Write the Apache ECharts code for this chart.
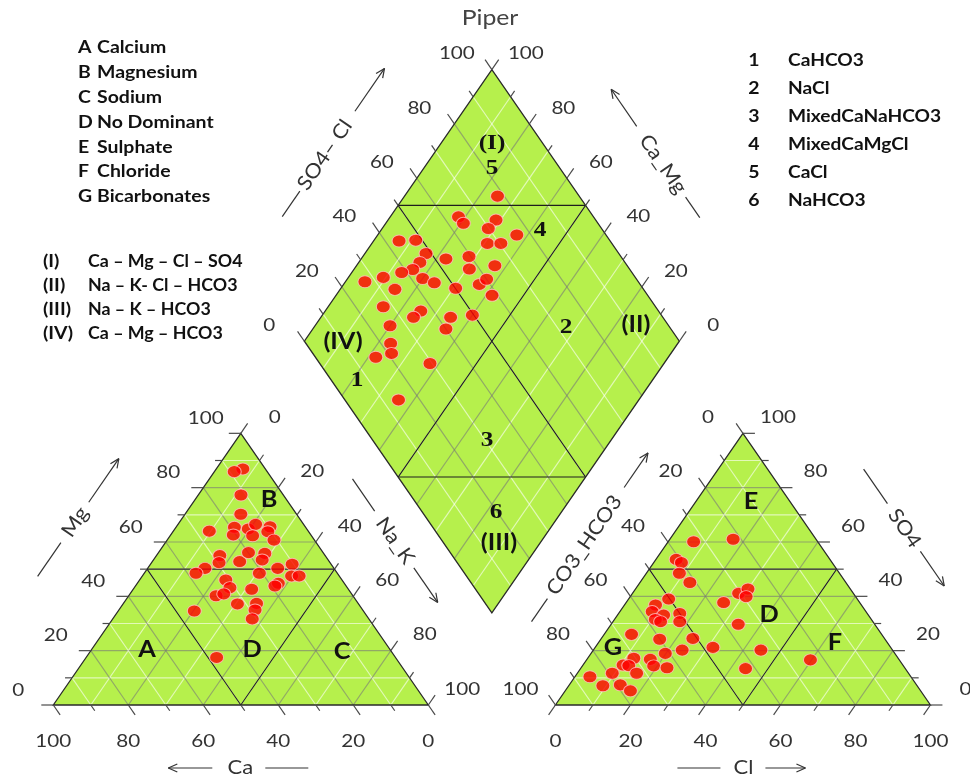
<!DOCTYPE html>
<html><head><meta charset="utf-8">
<script src="https://cdn.jsdelivr.net/npm/echarts@6/dist/echarts.min.js"></script>
<style>html,body{margin:0;padding:0;background:#fff}#c{width:970px;height:777px}</style>
</head><body><div id="c"></div>
<script>
// ---------------- DATA ----------------
// Cation triangle (% meq): Ca and Mg (Na+K = 100 - Ca - Mg)
const cationCa = [6.0,8.8,11.3,14.9,26.4,19.0,20.7,15.6,12.8,15.7,9.4,10.9,10.8,28.1,29.6,23.9,19.9,15.7,17.6,34.4,37.7,20.8,15.0,10.4,12.7,10.7,31.0,31.3,17.6,19.0,25.8,36.5,34.1,32.3,27.1,28.7,31.1,45.1,47.7];
const cationMg = [86.9,85.9,77.3,70.2,64.0,65.4,62.6,64.8,66.5,62.3,65.6,63.8,60.7,55.0,52.4,52.8,56.1,55.8,53.4,50.3,48.5,48.5,50.3,51.8,47.5,47.5,46.0,43.2,44.8,43.8,42.6,40.2,40.9,37.2,37.4,35.0,31.7,34.6,17.5];
// Anion triangle (% meq): Cl and SO4 (CO3+HCO3 = 100 - Cl - SO4)
const anionCl  = [6.8,16.9,5.4,7.4,8.8,13.3,28.3,30.0,30.9,26.0,10.7,8.3,8.6,12.3,16.3,10.9,12.7,17.8,33.9,7.3,15.7,24.4,31.4,23.7,44.7,19.8,12.3,16.9,10.7,12.3,19.0,22.9,15.8,9.3,4.0,9.1,13.6,17.4,44.0,59.7];
const anionSO4 = [60.1,61.0,53.6,52.4,48.5,45.1,41.1,42.7,39.9,37.7,39.0,36.8,34.4,33.1,33.7,31.5,30.7,30.7,29.7,26.0,24.2,24.5,21.2,20.2,20.2,19.0,17.2,16.8,14.7,14.5,14.4,13.7,11.7,11.7,10.4,7.1,7.4,5.2,13.4,16.6];
// Diamond: Ca+Mg and SO4+Cl
const diamondCaMg  = [75.2,81.8,79.3,71.2,71.7,62.9,69.2,65.6,93.2,88.9,83.7,77.4,71.7,63.1,69.3,83.7,84.3,86.7,80.0,76.1,90.7,94.8,85.4,69.4,63.8,62.8,58.4,85.3,74.5,75.3,65.4,60.0,64.5,80.0,76.6,74.5,78.0,62.4,64.1];
const diamondSO4Cl = [78.2,64.0,64.1,73.4,69.8,76.2,66.8,70.4,43.7,48.3,48.6,52.9,59.5,64.7,57.3,45.3,42.1,38.6,43.1,45.4,32.8,27.1,33.7,50.1,57.1,60.0,58.5,27.4,36.6,33.5,43.4,49.6,40.0,25.7,22.6,21.0,16.1,29.4,14.3];

const tickValues = [0,20,40,60,80,100];
const axisNames = ['Mg','Na_K','Ca','CO3_HCO3','SO4','Cl','SO4– Cl','Ca_Mg'];
const legendLetters = ['A','B','C','D','E','F','G'];
const legendNames = ['Calcium','Magnesium','Sodium','No Dominant','Sulphate','Chloride','Bicarbonates'];
const typeCodes = ['(I)','(II)','(III)','(IV)'];
const typeNames = ['Ca – Mg – Cl – SO4','Na – K- Cl – HCO3','Na – K – HCO3','Ca – Mg – HCO3'];
const classNums = ['1','2','3','4','5','6'];
const classNames = ['CaHCO3','NaCl','MixedCaNaHCO3','MixedCaMgCl','CaCl','NaHCO3'];
const chartTitle = 'Piper';

// ---------------- GEOMETRY ----------------
const H = Math.sqrt(3) / 2, G = 33.9;
const PX = 3.75, PY = 3.137, X0 = 53.3, Y0 = 705, W = 970, HT = 777;
const LT = {A:[0,0], B:[50,100*H], C:[100,0]};          // Ca, Mg, Na+K
const RT = {A:[100+G,0], B:[150+G,100*H], C:[200+G,0]};  // CO3+HCO3, SO4, Cl
function bary(T,a,b,c){return [(a*T.A[0]+b*T.B[0]+c*T.C[0])/100,(a*T.A[1]+b*T.B[1]+c*T.C[1])/100];}
function cat(ca,mg){return bary(LT,ca,mg,100-ca-mg);}
function ani(cl,so4){return bary(RT,100-cl-so4,so4,cl);}
function dia(cm,s){return [100+G/2+(s-cm)/2, H*(G+cm+s)];}

const FILL = '#b6f04c';
const SANS = 'Lato';

function renderFrame(params, api){
  const ch = [];
  const P = p => api.coord(p);
  const add = el => ch.push(el);
  const seg = (p,q,stroke,lw) => add({type:'line',shape:{x1:p[0],y1:p[1],x2:q[0],y2:q[1]},style:{stroke:stroke,lineWidth:lw}});
  const dseg = (a,b,stroke,lw) => seg(P(a),P(b),stroke,lw);
  const txt = (x,y,text,font,o) => { o=o||{}; add({type:'text',x:x,y:y,rotation:o.rot||0,scaleX:o.sx||1,
      style:{text:text,font:font,fill:o.fill||'#222',align:o.align||'center',verticalAlign:'middle'}}); };

  const shapes = [[LT.A,LT.B,LT.C],[RT.A,RT.B,RT.C],[dia(0,0),dia(100,0),dia(100,100),dia(0,100)]];
  const cent = shapes.map(s => { const ps=s.map(P); return [ps.reduce((a,p)=>a+p[0],0)/ps.length, ps.reduce((a,p)=>a+p[1],0)/ps.length]; });
  shapes.forEach(s => add({type:'polygon',shape:{points:s.map(P)},style:{fill:FILL,stroke:'none'}}));

  // grid lines
  const gcol = k => k%20===0 ? 'rgba(120,120,120,0.6)' : 'rgba(255,255,255,0.6)';
  for (let k=10;k<100;k+=10){
    [LT,RT].forEach(T => {
      dseg(bary(T,k,100-k,0), bary(T,k,0,100-k), gcol(k), 1.2);
      dseg(bary(T,100-k,k,0), bary(T,0,k,100-k), gcol(k), 1.2);
      dseg(bary(T,100-k,0,k), bary(T,0,100-k,k), gcol(k), 1.2);
    });
    dseg(dia(0,k), dia(100,k), gcol(k), 1.2);
    dseg(dia(k,0), dia(k,100), gcol(k), 1.2);
  }
  // classification lines
  const rc = '#1e1e1e';
  [LT,RT].forEach(T => {
    dseg(bary(T,50,50,0), bary(T,0,50,50), rc, 1.1);
    dseg(bary(T,50,50,0), bary(T,50,0,50), rc, 1.1);
    dseg(bary(T,0,50,50), bary(T,50,0,50), rc, 1.1);
  });
  dseg(dia(100,50), dia(50,100), rc, 1.1);
  dseg(dia(100,50), dia(0,50), rc, 1.1);
  dseg(dia(50,100), dia(50,0), rc, 1.1);
  dseg(dia(50,0), dia(0,50), rc, 1.1);
  // borders
  shapes.forEach(s => add({type:'polygon',shape:{points:s.map(P)},style:{fill:'none',stroke:'#2a2a2a',lineWidth:1.3}}));

  // ticks + tick labels
  const edges = [
    {pt:k=>bary(LT,100-k,k,0), dir:[-1,0],    off:[-35,-15]},
    {pt:k=>bary(LT,0,100-k,k), dir:[0.5,H],   off:[34,-16]},
    {pt:k=>bary(LT,k,0,100-k), dir:[0.5,-H],  off:[0,36]},
    {pt:k=>bary(RT,k,100-k,0), dir:[-0.5,H],  off:[-35,-16]},
    {pt:k=>bary(RT,0,k,100-k), dir:[1,0],     off:[35,-16]},
    {pt:k=>bary(RT,100-k,0,k), dir:[-0.5,-H], off:[0,36]},
    {pt:k=>dia(100,k),         dir:[-0.5,H],  off:[-35,-16]},
    {pt:k=>dia(k,100),         dir:[0.5,H],   off:[34,-16]}
  ];
  edges.forEach(e => {
    for (let k=0;k<=100;k+=10){
      const d = e.pt(k), p = P(d), q = P([d[0]+e.dir[0], d[1]+e.dir[1]]);
      let vx=q[0]-p[0], vy=q[1]-p[1]; const l=Math.hypot(vx,vy); vx/=l; vy/=l;
      const len = k%20===0 ? 12 : 7;
      seg(p,[p[0]+vx*len,p[1]+vy*len],'#4a4a4a',1.2);
    }
    tickValues.forEach(k => { const p=P(e.pt(k)); txt(p[0]+e.off[0], p[1]+e.off[1], String(k), '17.5px '+SANS, {sx:1.18, fill:'#333'}); });
  });

  // axis titles with lines/arrows
  const specs = [
    {shape:0,a:LT.A,b:LT.B,line:[97,138],t:163,arrow:[187,240],n:86},
    {shape:0,a:LT.B,b:LT.C,line:[101,140],t:176,arrow:[209,251],n:66},
    {shape:0,a:LT.A,b:LT.C,line:[212,255],t:187,arrow:[159,115],n:63},
    {shape:1,a:RT.A,b:RT.B,line:[55,83],t:148,arrow:[218,260],n:67},
    {shape:1,a:RT.B,b:RT.C,line:[98,140],t:170,arrow:[198,240],n:79},
    {shape:1,a:RT.A,b:RT.C,line:[122,165],t:188,arrow:[210,250],n:63},
    {shape:2,a:dia(100,0),b:dia(100,100),line:[90,121],t:165,arrow:[218,270],n:89},
    {shape:2,a:dia(100,100),b:dia(0,100),line:[215,240],t:175,arrow:[129,84],n:87}
  ];
  specs.forEach((s,i) => {
    const pa=P(s.a), pb=P(s.b);
    let dx=pb[0]-pa[0], dy=pb[1]-pa[1]; const L=Math.hypot(dx,dy); dx/=L; dy/=L;
    let nx=dy, ny=-dx; const c=cent[s.shape];
    const mx=(pa[0]+pb[0])/2, my=(pa[1]+pb[1])/2;
    if ((mx-c[0])*nx+(my-c[1])*ny<0){nx=-nx;ny=-ny;}
    const at = t => [pa[0]+dx*t+nx*s.n, pa[1]+dy*t+ny*s.n];
    seg(at(s.line[0]), at(s.line[1]), '#333', 1.2);
    const t0=at(s.arrow[0]), t1=at(s.arrow[1]);
    seg(t0,t1,'#333',1.2);
    let ex=t1[0]-t0[0], ey=t1[1]-t0[1]; const el=Math.hypot(ex,ey); ex/=el; ey/=el;
    seg(t1,[t1[0]-ex*9-ey*4, t1[1]-ey*9+ex*4],'#333',1.2);
    seg(t1,[t1[0]-ex*9+ey*4, t1[1]-ey*9-ex*4],'#333',1.2);
    const tp=at(s.t);
    txt(tp[0],tp[1],axisNames[i],'20px '+SANS,{rot:Math.atan2(-dy,dx), sx:1.1, fill:'#333'});
  });

  // zone labels (pixel layout)
  const serif = 'bold 22px "Liberation Serif"', sansB = 'bold 22px '+SANS;
  const zones = [
    ['(I)',492,143,serif],[classNums[4],492,168,serif],[classNums[3],540,230,serif],[classNums[1],566,327,serif],
    ['(II)',636,325,sansB],['(IV)',343,342,sansB],[classNums[0],357,380,serif],[classNums[2],487,440,serif],
    [classNums[5],496,512,serif],['(III)',499,543,sansB],
    ['A',147,650,sansB],['B',269,500,sansB],['C',342,652,sansB],['D',252,650,sansB],
    ['E',751,502,sansB],['D',769,615,sansB],['F',835,643,sansB],['G',613,648,sansB]
  ];
  zones.forEach(z => txt(z[1],z[2],z[0],z[3],{sx:1.15, fill:'#111'}));

  // legends
  const lf = 'bold 16.5px '+SANS;
  legendLetters.forEach((l,i) => { const y=48+24.8*i; txt(78,y,l,lf,{align:'left',sx:1.18,fill:'#111'}); txt(97,y,legendNames[i],lf,{align:'left',sx:1.18,fill:'#111'}); });
  typeCodes.forEach((c,i) => { const y=262+24*i; txt(43,y,c,lf,{align:'left',sx:1.18,fill:'#111'}); txt(88,y,typeNames[i],lf,{align:'left',sx:1.08,fill:'#111'}); });
  classNums.forEach((c,i) => { const y=60.5+28*i; txt(754,y,c,lf,{sx:1.18,fill:'#111'}); txt(788,y,classNames[i],lf,{align:'left',sx:1.16,fill:'#111'}); });
  txt(490,18,chartTitle,'21px '+SANS,{sx:1.18, fill:'#444'});

  return {type:'group', children: ch};
}

const chart = echarts.init(document.getElementById('c'), null, {renderer:'canvas'});
const pointStyle = {color:'#ff0000', borderColor:'#ffc4c4', borderWidth:1};
chart.setOption({
  animation:false,
  backgroundColor:'#ffffff',
  grid:{left:0,right:0,top:0,bottom:0},
  xAxis:{type:'value',min:-X0/PX,max:(W-X0)/PX,show:false},
  yAxis:{type:'value',min:-(HT-Y0)/PY,max:Y0/PY,show:false},
  series:[
    {type:'custom',renderItem:renderFrame,data:[[0,0]],silent:true,z:1,clip:false},
    {type:'scatter',name:'Cations',data:cationCa.map((c,i)=>cat(c,cationMg[i])),symbol:'circle',symbolSize:[14,12],itemStyle:pointStyle,z:5,silent:true},
    {type:'scatter',name:'Anions',data:anionCl.map((c,i)=>ani(c,anionSO4[i])),symbol:'circle',symbolSize:[14,12],itemStyle:pointStyle,z:5,silent:true},
    {type:'scatter',name:'Diamond',data:diamondCaMg.map((c,i)=>dia(c,diamondSO4Cl[i])),symbol:'circle',symbolSize:[14,12],itemStyle:pointStyle,z:5,silent:true}
  ]
});
</script></body></html>
